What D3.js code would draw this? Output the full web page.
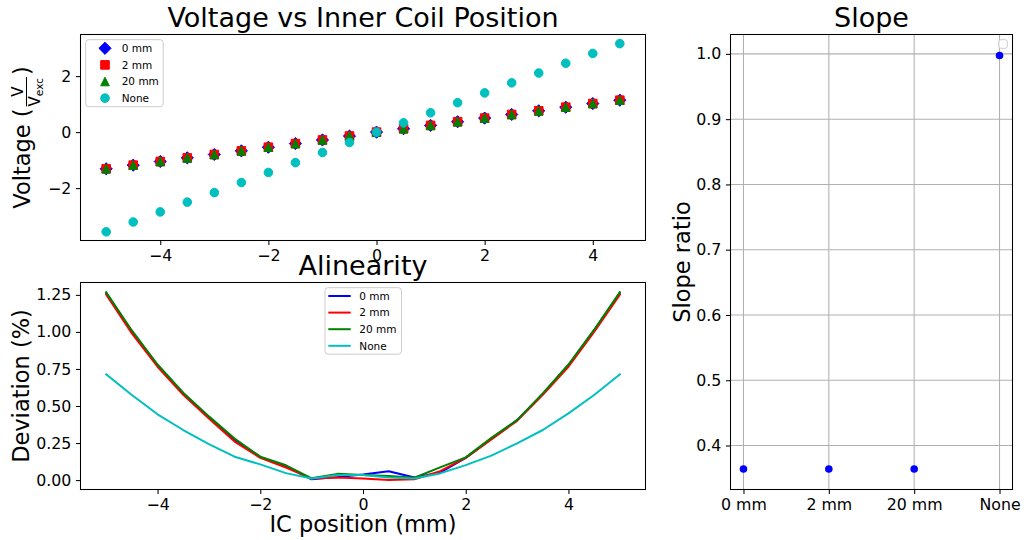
<!DOCTYPE html>
<html>
<head>
<meta charset="utf-8">
<script src="https://cdn.jsdelivr.net/npm/d3@7"></script>
<style>
  body { margin: 0; background: #ffffff; }
  svg { font-family: "DejaVu Sans", sans-serif; }
</style>
</head>
<body>
<script>
// ---- data ----
const positionsV = [-5, -4.5, -4, -3.5, -3, -2.5, -2, -1.5, -1, -0.5, 0, 0.5, 1, 1.5, 2, 2.5, 3, 3.5, 4, 4.5];
const voltage0mm  = [-1.31, -1.18, -1.05, -0.92, -0.80, -0.67, -0.54, -0.41, -0.28, -0.14, 0, 0.12, 0.24, 0.37, 0.50, 0.63, 0.76, 0.89, 1.02, 1.14];
const voltage2mm  = [-1.31, -1.18, -1.05, -0.92, -0.80, -0.67, -0.54, -0.41, -0.28, -0.14, 0, 0.12, 0.24, 0.37, 0.50, 0.63, 0.76, 0.89, 1.02, 1.14];
const voltage20mm = [-1.31, -1.18, -1.05, -0.92, -0.80, -0.67, -0.54, -0.41, -0.28, -0.14, 0, 0.12, 0.24, 0.37, 0.50, 0.63, 0.76, 0.89, 1.02, 1.14];
const voltageNone = [-3.56, -3.21, -2.85, -2.50, -2.16, -1.80, -1.44, -1.09, -0.73, -0.37, 0, 0.33, 0.69, 1.05, 1.40, 1.76, 2.11, 2.46, 2.81, 3.16];

const positionsA = [-5, -4.5, -4, -3.5, -3, -2.5, -2, -1.5, -1, -0.5, 0, 0.5, 1, 1.5, 2, 2.5, 3, 3.5, 4, 4.5, 5];
const alin0mm  = [1.262, 1.00, 0.775, 0.585, 0.425, 0.270, 0.155, 0.095, 0.005, 0.020, 0.038, 0.060, 0.018, 0.050, 0.150, 0.280, 0.405, 0.580, 0.775, 1.010, 1.262];
const alin2mm  = [1.252, 0.99, 0.765, 0.575, 0.415, 0.260, 0.150, 0.085, 0.010, 0.018, 0.011, 0.000, 0.005, 0.060, 0.150, 0.275, 0.400, 0.575, 0.765, 1.000, 1.250];
const alin20mm = [1.268, 1.01, 0.780, 0.590, 0.430, 0.280, 0.158, 0.100, 0.012, 0.042, 0.034, 0.027, 0.016, 0.086, 0.153, 0.285, 0.405, 0.585, 0.780, 1.015, 1.268];
const alinNone = [0.714, 0.574, 0.444, 0.338, 0.243, 0.158, 0.106, 0.047, 0.011, 0.034, 0.034, 0.018, 0.011, 0.045, 0.101, 0.165, 0.248, 0.338, 0.450, 0.574, 0.714];

const slopeCategories = ["0 mm", "2 mm", "20 mm", "None"];
const slopeRatios = [0.364, 0.364, 0.364, 0.9975];

const seriesNames = ["0 mm", "2 mm", "20 mm", "None"];
const seriesColors = ["#0000ff", "#ff0000", "#008000", "#00bfbf"];

const xTicksPos = [-4, -2, 0, 2, 4];
const yTicksVoltage = [-2, 0, 2];
const yTicksAlin = [0, 0.25, 0.5, 0.75, 1.0, 1.25];
const yTicksSlope = [0.4, 0.5, 0.6, 0.7, 0.8, 0.9, 1.0];

// ---- setup ----
const W = 1026, H = 540;
const TICK_FS = 15.8, LABEL_FS = 22.5, TITLE_FS = 27, LEGEND_FS = 10.5;
const svg = d3.select("body").append("svg").attr("width", W).attr("height", H);

const minus = s => String(s).replace("-", "\u2212");

const xV = d3.scaleLinear().domain([-5.475, 4.975]).range([80.5, 645.5]);
const yV = d3.scaleLinear().domain([-3.871, 3.486]).range([240.5, 34.5]);
const xA = d3.scaleLinear().domain([-5.5, 5.5]).range([80.5, 645.5]);
const yA = d3.scaleLinear().domain([-0.0635, 1.3335]).range([489.5, 282.5]);
const xS = d3.scaleLinear().domain([-0.152, 3.152]).range([730.5, 1012.5]);
const yS = d3.scaleLinear().domain([0.3326, 1.0297]).range([489.5, 34.5]);

function styleAxis(g) {
  g.select(".domain").remove();
  g.selectAll(".tick line").attr("stroke", "#000").attr("stroke-width", 1.05);
  g.selectAll(".tick text").attr("fill", "#000").attr("font-size", TICK_FS)
    .attr("font-family", "DejaVu Sans");
}

function frame(xs, ys) {
  const [x0, x1] = xs.range(), [y0, y1] = ys.range();
  svg.append("rect").attr("x", x0).attr("y", y1).attr("width", x1 - x0).attr("height", y0 - y1)
    .attr("fill", "none").attr("stroke", "#000").attr("stroke-width", 1.05);
}

function bottomAxis(xs, ys, ticks, fmt) {
  svg.append("g").attr("transform", `translate(0,${ys.range()[0]})`)
    .call(d3.axisBottom(xs).tickValues(ticks).tickSize(4.6).tickPadding(4.2).tickFormat(fmt))
    .call(styleAxis);
}
function leftAxis(xs, ys, ticks, fmt) {
  svg.append("g").attr("transform", `translate(${xs.range()[0]},0)`)
    .call(d3.axisLeft(ys).tickValues(ticks).tickSize(4.6).tickPadding(4.6).tickFormat(fmt))
    .call(styleAxis);
}

function title(text, x, y) {
  svg.append("text").attr("x", x).attr("y", y).attr("text-anchor", "middle")
    .attr("font-size", TITLE_FS).attr("fill", "#000").text(text);
}

// marker shapes (size = nominal marker width in px)
function markerPath(kind, cx, cy, s) {
  const h = s / 2;
  const p = d3.path();
  if (kind === "diamond") {
    const d = s * Math.SQRT2 / 2;
    p.moveTo(cx, cy - d); p.lineTo(cx + d, cy); p.lineTo(cx, cy + d); p.lineTo(cx - d, cy); p.closePath();
  } else if (kind === "square") {
    p.rect(cx - h, cy - h, s, s);
  } else if (kind === "triangle") {
    p.moveTo(cx, cy - h); p.lineTo(cx + h, cy + h); p.lineTo(cx - h, cy + h); p.closePath();
  } else {
    p.arc(cx, cy, h, 0, 2 * Math.PI);
  }
  return p.toString();
}
const markerKinds = ["diamond", "square", "triangle", "circle"];
const MS = 8.6;

// ================= Voltage vs Inner Coil Position =================
frame(xV, yV);
bottomAxis(xV, yV, xTicksPos, d => minus(d));
leftAxis(xV, yV, yTicksVoltage, d => minus(d));

const voltageSeries = [voltage0mm, voltage2mm, voltage20mm, voltageNone];
voltageSeries.forEach((vals, si) => {
  svg.append("g").selectAll("path").data(positionsV).join("path")
    .attr("d", (x, i) => markerPath(markerKinds[si], xV(x), yV(vals[i]), MS))
    .attr("fill", seriesColors[si]).attr("stroke", seriesColors[si]).attr("stroke-width", 1);
});

title("Voltage vs Inner Coil Position", 363, 27);

// legend
{
  const g = svg.append("g");
  g.append("rect").attr("x", 85.7).attr("y", 39.7).attr("width", 77.5).attr("height", 67)
    .attr("rx", 3).attr("fill", "#fff").attr("fill-opacity", 0.8).attr("stroke", "#cccccc").attr("stroke-width", 1);
  seriesNames.forEach((name, i) => {
    const cy = 48.3 + i * 16.6;
    g.append("path").attr("d", markerPath(markerKinds[i], 105, cy, MS))
      .attr("fill", seriesColors[i]).attr("stroke", seriesColors[i]).attr("stroke-width", 1);
    g.append("text").attr("x", 121.7).attr("y", cy + 3.8).attr("font-size", LEGEND_FS).attr("fill", "#000").text(name);
  });
}

// y label: Voltage (V / V_exc)
{
  const g = svg.append("g");
  const main = g.append("text").attr("font-size", LABEL_FS).attr("fill", "#000").text("Voltage (");
  const mainW = main.node().getComputedTextLength();
  const num = g.append("text").attr("font-size", 15).attr("fill", "#000").text("V");
  const den = g.append("text").attr("font-size", 15).attr("fill", "#000").text("V");
  const sub = g.append("text").attr("font-size", 10.5).attr("fill", "#000").text("exc");
  const denW = den.node().getComputedTextLength();
  const subW = sub.node().getComputedTextLength();
  const numW = num.node().getComputedTextLength();
  const fracW = denW + subW + 1;
  const fx = mainW + 2;
  num.attr("x", fx + (fracW - numW) / 2).attr("y", -7.5);
  g.append("line").attr("x1", fx).attr("x2", fx + fracW).attr("y1", -3.5).attr("y2", -3.5)
    .attr("stroke", "#000").attr("stroke-width", 1);
  den.attr("x", fx).attr("y", 10);
  sub.attr("x", fx + denW).attr("y", 13);
  const close = g.append("text").attr("font-size", LABEL_FS).attr("fill", "#000")
    .attr("x", fx + fracW + 2).text(")");
  const total = fx + fracW + 2 + close.node().getComputedTextLength();
  const yc = (yV.range()[0] + yV.range()[1]) / 2;
  g.attr("transform", `translate(30,${yc + total / 2}) rotate(-90)`);
}

// ================= Alinearity =================
frame(xA, yA);
bottomAxis(xA, yA, xTicksPos, d => minus(d));
leftAxis(xA, yA, yTicksAlin, d => d3.format(".2f")(d));

const alinSeries = [alin0mm, alin2mm, alin20mm, alinNone];
const lineGen = vals => d3.line().x((x) => xA(x)).y((x, i) => yA(vals[i]));
alinSeries.forEach((vals, si) => {
  svg.append("path").datum(positionsA).attr("d", lineGen(vals))
    .attr("fill", "none").attr("stroke", seriesColors[si]).attr("stroke-width", 2)
    .attr("stroke-linejoin", "round").attr("stroke-linecap", "square");
});

title("Alinearity", 363, 275);

{
  const g = svg.append("g");
  g.append("rect").attr("x", 325).attr("y", 287.7).attr("width", 76.5).attr("height", 66.5)
    .attr("rx", 3).attr("fill", "#fff").attr("fill-opacity", 0.8).attr("stroke", "#cccccc").attr("stroke-width", 1);
  seriesNames.forEach((name, i) => {
    const cy = 296 + i * 16.6;
    g.append("line").attr("x1", 328.3).attr("x2", 350.7).attr("y1", cy).attr("y2", cy)
      .attr("stroke", seriesColors[i]).attr("stroke-width", 2);
    g.append("text").attr("x", 359.3).attr("y", cy + 3.8).attr("font-size", LEGEND_FS).attr("fill", "#000").text(name);
  });
}

svg.append("text").attr("x", 363).attr("y", 532).attr("text-anchor", "middle")
  .attr("font-size", LABEL_FS).attr("fill", "#000").text("IC position (mm)");
svg.append("text").attr("transform", `translate(29,${(yA.range()[0] + yA.range()[1]) / 2}) rotate(-90)`)
  .attr("text-anchor", "middle").attr("font-size", LABEL_FS).attr("fill", "#000").text("Deviation (%)");

// ================= Slope =================
{
  const grid = svg.append("g");
  grid.selectAll("line.v").data(slopeCategories).join("line").attr("class", "v")
    .attr("x1", (d, i) => xS(i)).attr("x2", (d, i) => xS(i))
    .attr("y1", yS.range()[0]).attr("y2", yS.range()[1])
    .attr("stroke", "#b0b0b0").attr("stroke-width", 1.05);
  grid.selectAll("line.h").data(yTicksSlope).join("line").attr("class", "h")
    .attr("x1", xS.range()[0]).attr("x2", xS.range()[1])
    .attr("y1", d => yS(d)).attr("y2", d => yS(d))
    .attr("stroke", "#b0b0b0").attr("stroke-width", 1.05);
}
frame(xS, yS);
svg.append("g").attr("transform", `translate(0,${yS.range()[0]})`)
  .call(d3.axisBottom(xS).tickValues([0, 1, 2, 3]).tickSize(4.6).tickPadding(4.2).tickFormat(i => slopeCategories[i]))
  .call(styleAxis);
leftAxis(xS, yS, yTicksSlope, d => d3.format(".1f")(d));

svg.append("g").selectAll("circle").data(slopeRatios).join("circle")
  .attr("cx", (d, i) => xS(i)).attr("cy", d => yS(d)).attr("r", 3.8).attr("fill", "#0000ff");

// empty legend frame in the upper right corner
svg.append("rect").attr("x", 998.7).attr("y", 39.7).attr("width", 8.6).attr("height", 8.6)
  .attr("rx", 2).attr("fill", "#fff").attr("fill-opacity", 0.8).attr("stroke", "#cccccc").attr("stroke-width", 1);

title("Slope", 871.5, 27);
svg.append("text").attr("transform", `translate(690,${(yS.range()[0] + yS.range()[1]) / 2}) rotate(-90)`)
  .attr("text-anchor", "middle").attr("font-size", LABEL_FS).attr("fill", "#000").text("Slope ratio");
</script>
</body>
</html>
